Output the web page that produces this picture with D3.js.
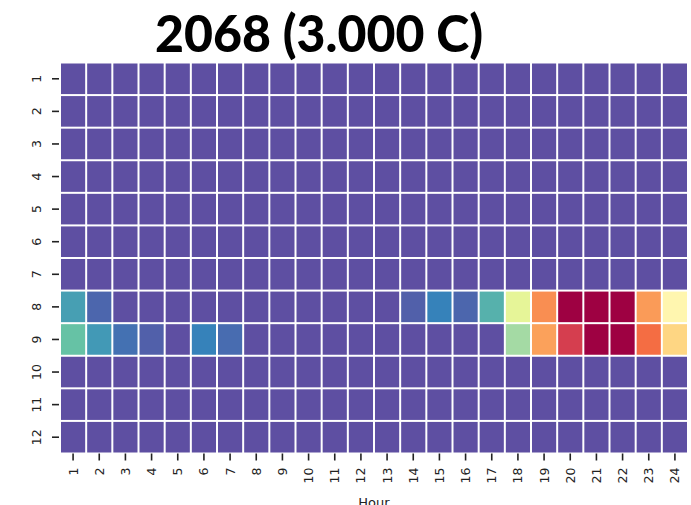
<!DOCTYPE html>
<html>
<head>
<meta charset="utf-8">
<script src="https://cdn.jsdelivr.net/npm/d3@7"></script>
<style>
  html, body { margin: 0; padding: 0; background: #fff; }
  svg { display: block; }
</style>
</head>
<body>
<svg id="chart" width="691" height="505"></svg>
<script>
// Months (rows) and hours (columns)
const months = [1, 2, 3, 4, 5, 6, 7, 8, 9, 10, 11, 12];
const hours = d3.range(1, 25);

// Normalised index per hour for the non-zero months; all other months are 0
const month8 = [0.14, 0.04, 0, 0, 0, 0, 0, 0, 0, 0, 0, 0,
                0, 0.03, 0.09, 0.04, 0.17, 0.40, 0.75, 1.0, 1.0, 1.0, 0.73, 0.53];
const month9 = [0.20, 0.13, 0.06, 0.03, 0, 0.09, 0.05, 0, 0, 0, 0, 0,
                0, 0, 0, 0, 0, 0.29, 0.72, 0.90, 1.0, 1.0, 0.80, 0.62];
const zeroRow = hours.map(() => 0);

const titleText = "2068 (3.000 C)";
const xLabel = "Hour";

const rows = months.map(m => m === 8 ? month8 : m === 9 ? month9 : zeroRow);
const cells = [];
rows.forEach((vals, i) => vals.forEach((v, j) => cells.push({month: months[i], hour: hours[j], value: v})));

// Spectral_r as a piecewise-linear colormap
const spectral = ["#5e4fa2", "#3288bd", "#66c2a5", "#abdda4", "#e6f598", "#ffffbf",
                  "#fee08b", "#fdae61", "#f46d43", "#d53e4f", "#9e0142"];
const color = d3.scaleLinear()
  .domain(d3.range(11).map(i => i / 10))
  .range(spectral)
  .interpolate(d3.interpolateRgb)
  .clamp(true);

const svg = d3.select("#chart");
const plotLeft = 60, plotRight = 688, plotTop = 62.5, plotBottom = 453.5;

const x = d3.scaleBand().domain(hours).range([plotLeft, plotRight]);
const y = d3.scaleBand().domain(months).range([plotTop, plotBottom]);

// Cells, separated by white grid lines
svg.append("g")
  .selectAll("rect")
  .data(cells)
  .join("rect")
  .attr("x", d => x(d.hour) + 1)
  .attr("y", d => y(d.month) + 1)
  .attr("width", x.bandwidth() - 2)
  .attr("height", y.bandwidth() - 2)
  .attr("fill", d => color(d.value));

// X axis (rotated tick labels)
const xAxis = svg.append("g")
  .attr("transform", `translate(0,${plotBottom})`)
  .call(d3.axisBottom(x).tickSize(7).tickPadding(0));
xAxis.select(".domain").remove();
xAxis.selectAll(".tick line").attr("stroke", "#222").attr("stroke-width", 1.6);
xAxis.selectAll(".tick text")
  .attr("font-family", "DejaVu Sans, sans-serif")
  .attr("font-size", 12.5)
  .attr("fill", "#222")
  .attr("text-anchor", "end")
  .attr("dy", null)
  .attr("dominant-baseline", "central")
  .attr("transform", "translate(0,14) rotate(-90)")
  .attr("y", 0)
  .attr("x", 0);

// Y axis (rotated tick labels)
const yAxis = svg.append("g")
  .attr("transform", `translate(${plotLeft - 1},0)`)
  .call(d3.axisLeft(y).tickSize(7).tickPadding(0));
yAxis.select(".domain").remove();
yAxis.selectAll(".tick line").attr("stroke", "#222").attr("stroke-width", 1.6);
yAxis.selectAll(".tick text")
  .attr("font-family", "DejaVu Sans, sans-serif")
  .attr("font-size", 12.5)
  .attr("fill", "#222")
  .attr("text-anchor", "middle")
  .attr("dy", null)
  .attr("dominant-baseline", "central")
  .attr("x", 0)
  .attr("y", 0)
  .attr("transform", "translate(-23,0) rotate(-90)");

// Axis title
svg.append("text")
  .attr("x", (plotLeft + plotRight) / 2)
  .attr("y", 507)
  .attr("text-anchor", "middle")
  .attr("font-family", "DejaVu Sans, sans-serif")
  .attr("font-size", 13)
  .attr("fill", "#222")
  .text(xLabel);

// Chart title
svg.append("text")
  .attr("x", 319)
  .attr("y", 52)
  .attr("text-anchor", "middle")
  .attr("font-family", "Lato, 'DejaVu Sans', sans-serif")
  .attr("font-weight", 900)
  .attr("font-size", 52)
  .attr("textLength", 328)
  .attr("lengthAdjust", "spacingAndGlyphs")
  .attr("fill", "#000")
  .text(titleText);
</script>
</body>
</html>
